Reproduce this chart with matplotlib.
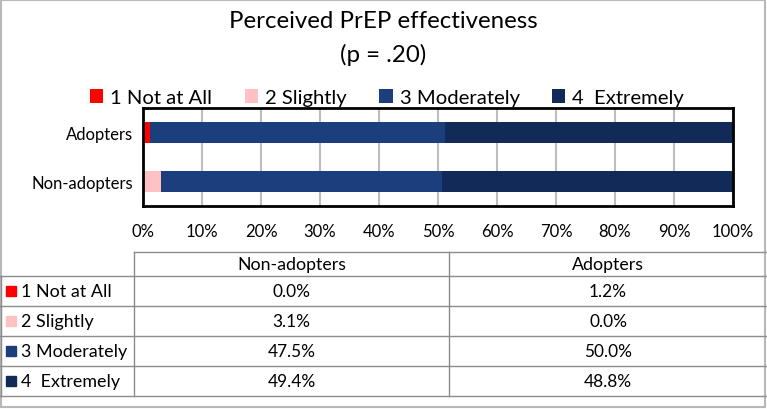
import matplotlib.pyplot as plt
from matplotlib.patches import Rectangle

plt.rcParams['font.family'] = ['Lato', 'DejaVu Sans']

groups = ['Non-adopters', 'Adopters']
levels = ['1 Not at All', '2 Slightly', '3 Moderately', '4  Extremely']
level_colors = ['#ff0000', '#ffc1c1', '#1b3e7d', '#112a57']
non_adopters = [0.0, 3.1, 47.5, 49.4]
adopters = [1.2, 0.0, 50.0, 48.8]
xticks = [0, 10, 20, 30, 40, 50, 60, 70, 80, 90, 100]

W, H = 767, 410
fig = plt.figure(figsize=(W / 100, H / 100), dpi=100)

# background axes in pixel coords for the title, table and frame
bg = fig.add_axes([0, 0, 1, 1], zorder=-1)
bg.set_xlim(0, W)
bg.set_ylim(H, 0)
bg.axis('off')
bg.add_patch(Rectangle((1, 1), W - 3, H - 3, fill=False, ec='#b8b8b8', lw=1.5))

bg.text(383, 22, 'Perceived PrEP effectiveness', ha='center', va='center', fontsize=17.3)
bg.text(383, 55, '(p = .20)', ha='center', va='center', fontsize=17.3)

# stacked bars
ax = fig.add_axes([143 / W, 1 - 207 / H, (733 - 143) / W, (207 - 109) / H])
values = [non_adopters, adopters]
left = [0, 0]
for i, lab in enumerate(levels):
    seg = [values[g][i] for g in range(len(groups))]
    ax.barh(range(len(groups)), seg, left=left, height=0.41,
            color=level_colors[i], label=lab, zorder=2)
    left = [a + b for a, b in zip(left, seg)]
ax.set_xlim(0, 100)
ax.set_ylim(-0.5, 1.5)
ax.set_xticks(xticks)
ax.set_xticklabels([f'{t}%' for t in xticks], fontsize=12)
ax.set_yticks(range(len(groups)))
ax.set_yticklabels(groups, fontsize=12)
ax.tick_params(length=0, pad=12)
ax.tick_params(axis='y', pad=7)
ax.grid(axis='x', color='#bdbdbd', lw=1.5, zorder=0)
for s in ax.spines.values():
    s.set_linewidth(2)
    s.set_color('black')

leg = ax.legend(loc='center', bbox_to_anchor=(0.414, 1.105), ncol=4, frameon=False,
                fontsize=14.6, handlelength=0.65, handleheight=0.65,
                handletextpad=0.35, columnspacing=1.6, borderaxespad=0)

# data table
col_x = [134, 449, W]
row_y = [253, 277, 307, 337, 367, 397]
bg.plot([134, W], [row_y[0]] * 2, color='#8c8c8c', lw=1)
for y in row_y[1:]:
    bg.plot([0, W], [y, y], color='#8c8c8c', lw=1)
for x in col_x[:2]:
    bg.plot([x, x], [row_y[0], row_y[-1]], color='#8c8c8c', lw=1)
bg.plot([1, 1], [row_y[1], row_y[-1]], color='#8c8c8c', lw=1)

for j, g in enumerate(groups):
    cx = (col_x[j] + col_x[j + 1]) / 2
    bg.text(cx, (row_y[0] + row_y[1]) / 2, g, ha='center', va='center', fontsize=12.8)
for i, lab in enumerate(levels):
    cy = (row_y[i + 1] + row_y[i + 2]) / 2
    bg.add_patch(Rectangle((6, cy - 5), 10, 10, color=level_colors[i]))
    bg.text(21, cy, lab, ha='left', va='center', fontsize=12.9)
    for j in range(len(groups)):
        cx = (col_x[j] + col_x[j + 1]) / 2
        bg.text(cx, cy, f'{values[j][i]:.1f}%', ha='center', va='center', fontsize=12.4)

fig.savefig('out.png', dpi=100)
